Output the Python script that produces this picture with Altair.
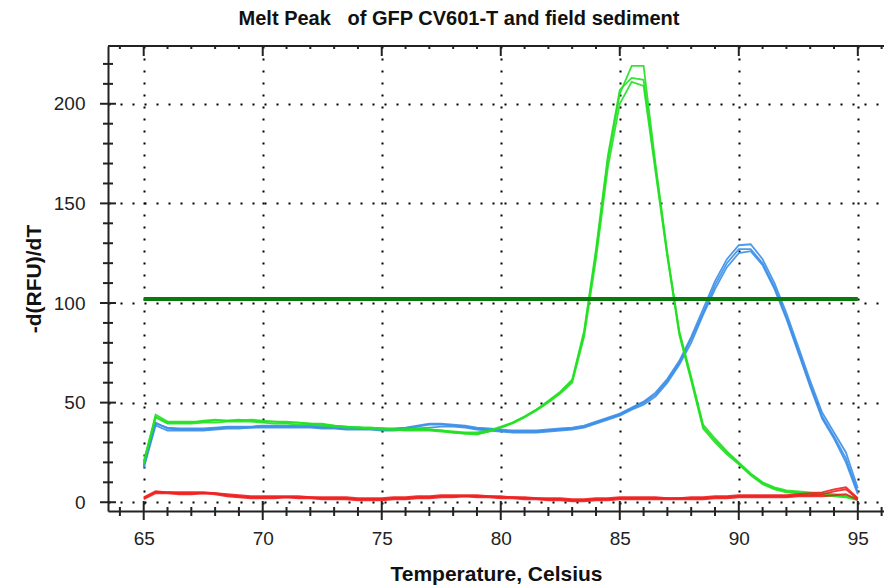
import altair as alt
import pandas as pd

# Temperature grid (Celsius), 0.5 degree steps
temps = [65.0, 65.5, 66.0, 66.5, 67.0, 67.5, 68.0, 68.5, 69.0, 69.5,
         70.0, 70.5, 71.0, 71.5, 72.0, 72.5, 73.0, 73.5, 74.0, 74.5,
         75.0, 75.5, 76.0, 76.5, 77.0, 77.5, 78.0, 78.5, 79.0, 79.5,
         80.0, 80.5, 81.0, 81.5, 82.0, 82.5, 83.0, 83.5, 84.0, 84.5,
         85.0, 85.5, 86.0, 86.5, 87.0, 87.5, 88.0, 88.5, 89.0, 89.5,
         90.0, 90.5, 91.0, 91.5, 92.0, 92.5, 93.0, 93.5, 94.0, 94.5,
         95.0]

green_a = [20, 44, 40.5, 40.5, 40.5, 40.5, 41, 41, 41.5, 41,
           40.5, 40.5, 40, 40, 39.5, 39, 38.5, 38, 37.5, 37,
           37, 36.5, 36.5, 36.5, 36.5, 36, 35.5, 35, 35, 36,
           38, 40, 43, 46.5, 50.5, 55, 61, 85, 125, 172,
           205, 219, 219, 170, 125, 85, 62, 38, 31, 25,
           19.5, 14, 9.5, 7, 5.5, 5, 4.5, 4, 3.5, 3,
           1.5]
green_b = [19, 42.5, 39.5, 39.5, 39.5, 40, 40, 40.5, 40.5, 40.5,
           40, 39.5, 39.5, 39, 39, 38.5, 38, 37.5, 37.5, 37,
           36.5, 36.5, 36, 36, 36, 35.5, 35, 34.5, 34.5, 35.5,
           37.5, 39.5, 42.5, 46, 50, 54.5, 60, 83, 122, 168,
           200, 211, 209, 166, 123, 84, 61, 37, 30, 24,
           19, 13.5, 9, 6.5, 5, 4.5, 4, 3.5, 3, 2.5,
           1]
green_c = [20.5, 43, 40, 40, 40, 41, 41.5, 41, 41, 41.5,
           41, 40.5, 40.5, 40, 39.5, 39.5, 38.5, 38, 37.5, 37.5,
           37, 36.5, 36.5, 37, 36.5, 36, 35, 34.5, 34, 35.5,
           37.5, 40, 43, 46.5, 51, 55.5, 61.5, 86, 127, 174,
           207, 213, 212, 168, 124, 86, 63, 39, 32, 25.5,
           20, 14.5, 10, 7.5, 6, 5.5, 5, 4.5, 4, 3.5,
           2]

blue_a = [18, 40, 37, 36.5, 36.5, 36.5, 37, 37.5, 37.5, 37.5,
          38, 38, 38, 38, 38, 37.5, 37.5, 37, 37, 37,
          36.5, 36.5, 37, 38, 39, 39, 38.5, 38, 37, 36.5,
          36, 35.5, 35.5, 35.5, 36, 36.5, 37, 38, 40, 42,
          44, 47, 50, 54, 61, 70, 82, 95, 109, 120,
          127, 127, 120, 108, 93, 76, 59, 43, 33, 22,
          5]
blue_b = [17, 38.5, 36, 36, 36, 36, 36.5, 37, 37, 37.5,
          37.5, 37.5, 37.5, 37.5, 37.5, 37, 37, 36.5, 36.5, 36.5,
          36, 36, 36.5, 37, 37.5, 38, 38, 37.5, 36.5, 36,
          35.5, 35, 35, 35, 35.5, 36, 36.5, 37.5, 39.5, 41.5,
          43.5, 46.5, 49, 53, 60, 69, 80, 94, 107, 118,
          125, 126, 119, 107, 92, 75, 58, 42, 32, 20,
          4]
blue_c = [18.5, 39.5, 37.5, 37, 37, 37, 37.5, 38, 38, 38,
          38.5, 38.5, 38.5, 38.5, 38.5, 38, 38, 37.5, 37.5, 37,
          37, 37, 37.5, 38.5, 39.5, 39.5, 39, 38.5, 37.5, 37,
          36.5, 36, 36, 36, 36.5, 37, 37.5, 38.5, 40.5, 42.5,
          44.5, 47.5, 50.5, 55, 62, 71, 83, 97, 111, 122,
          129, 129.5, 122, 110, 95, 78, 61, 45, 35, 25,
          7]

red_a = [2, 5, 5, 4.5, 4.5, 4.5, 4.5, 3.5, 3, 2.5,
         2.5, 2.5, 2.5, 2.5, 2.5, 2, 2, 2, 1.5, 1.5,
         1.5, 2, 2, 2.5, 2.5, 3, 3, 3, 3, 3,
         2.5, 2.5, 2, 2, 1.5, 1.5, 1, 1, 1.5, 1.5,
         2, 2, 2, 2, 2, 2, 2, 2, 2.5, 2.5,
         3, 3, 3, 3, 3, 3.5, 3.5, 4, 5.5, 6.5,
         1.5]
red_b = [1.5, 4.5, 4.5, 4, 4, 4.5, 4, 3, 2.5, 2,
         2, 2, 2.5, 2, 2, 1.5, 1.5, 1.5, 1, 1,
         1, 1.5, 1.5, 2, 2, 2.5, 2.5, 3, 2.5, 2.5,
         2, 2, 1.5, 1.5, 1, 1, 0.5, 0.5, 1, 1,
         1.5, 1.5, 1.5, 1.5, 1.5, 1.5, 1.5, 1.5, 2, 2,
         2.5, 2.5, 2.5, 2.5, 2.5, 3, 3, 3, 3.5, 4,
         1]
red_c = [2.5, 5.5, 5, 5, 5, 5, 4.5, 4, 3.5, 3,
         3, 3, 3, 3, 2.5, 2.5, 2.5, 2.5, 2, 2,
         2, 2.5, 2.5, 3, 3, 3.5, 3.5, 3.5, 3.5, 3,
         3, 2.5, 2.5, 2, 2, 2, 1.5, 1.5, 2, 2,
         2.5, 2.5, 2.5, 2.5, 2, 2, 2.5, 2.5, 3, 3,
         3.5, 3.5, 3.5, 3.5, 3.5, 4, 4.5, 5, 6.5, 7.5,
         2]

threshold = [102]
x_major = [65, 70, 75, 80, 85, 90, 95]
x_minor = [64, 66, 67, 68, 69, 71, 72, 73, 74, 76, 77, 78, 79, 81, 82, 83, 84,
           86, 87, 88, 89, 91, 92, 93, 94, 96]
y_major = [0, 50, 100, 150, 200]
y_minor = [10, 20, 30, 40, 60, 70, 80, 90, 110, 120, 130, 140, 160, 170, 180,
           190, 210, 220]

series = [
    ("blue", "b1", blue_a), ("blue", "b2", blue_b), ("blue", "b3", blue_c),
    ("green", "g1", green_a), ("green", "g2", green_b), ("green", "g3", green_c),
    ("red", "r1", red_a), ("red", "r2", red_b), ("red", "r3", red_c),
]
rows = []
for grp, rep, vals in series:
    for t, v in zip(temps, vals):
        rows.append({"T": t, "v": v, "grp": grp, "rep": rep})
curves = pd.DataFrame(rows)

W, H = 776, 465
FONT = "Liberation Sans"
XDOM = [63.5, 96.1]
YDOM = [-4.4, 229]

xs = alt.Scale(domain=XDOM, nice=False, zero=False)
ys = alt.Scale(domain=YDOM, nice=False, zero=False)

base_x = alt.X("T:Q", scale=xs,
               axis=alt.Axis(values=x_major, grid=True, gridDash=[2, 10],
                             gridColor="#000", gridWidth=2, gridOpacity=1,
                             ticks=False, domain=True, domainColor="#222",
                             domainWidth=2, labelFontSize=19, labelFont=FONT,
                             labelColor="#222", labelPadding=18,
                             title="Temperature, Celsius", titleFont=FONT,
                             titleFontSize=21, titleFontWeight="bold",
                             titleColor="#111", titlePadding=15))
base_y = alt.Y("v:Q", scale=ys,
               axis=alt.Axis(values=y_major, grid=True, gridDash=[2, 10],
                             gridColor="#000", gridWidth=2, gridOpacity=1,
                             ticks=False, domain=True, domainColor="#222",
                             domainWidth=2, labelFontSize=19, labelFont=FONT,
                             labelColor="#222", labelPadding=23,
                             title="-d(RFU)/dT", titleFont=FONT,
                             titleFontSize=21, titleFontWeight="bold",
                             titleColor="#111", titlePadding=9))

lines = alt.Chart(curves).mark_line(strokeWidth=1.8, opacity=0.9).encode(
    x=base_x,
    y=base_y,
    color=alt.Color("grp:N", legend=None,
                    scale=alt.Scale(domain=["blue", "green", "red"],
                                    range=["#3a8ee8", "#22e022", "#ee2020"])),
    detail="rep:N",
    order=alt.Order("T:Q"),
)

thr = alt.Chart(pd.DataFrame({"y": threshold, "x1": [65], "x2": [95]})).mark_rule(
    color="#0a7a0a", strokeWidth=4).encode(
    x=alt.X("x1:Q", scale=xs), x2="x2:Q", y=alt.Y("y:Q", scale=ys))

tick_col = "#222"
xmaj = pd.DataFrame({"t": x_major})
xmin = pd.DataFrame({"t": x_minor})
ymaj = pd.DataFrame({"t": y_major})
ymin = pd.DataFrame({"t": y_minor})

bot_major = alt.Chart(xmaj).mark_rule(color=tick_col, strokeWidth=2).encode(
    x=alt.X("t:Q", scale=xs), y=alt.value(H - 10), y2=alt.value(H + 9))
bot_minor = alt.Chart(xmin).mark_rule(color=tick_col, strokeWidth=2).encode(
    x=alt.X("t:Q", scale=xs), y=alt.value(H - 4), y2=alt.value(H + 5))
top_major = alt.Chart(xmaj).mark_rule(color=tick_col, strokeWidth=2).encode(
    x=alt.X("t:Q", scale=xs), y=alt.value(0), y2=alt.value(10))
top_minor = alt.Chart(xmin).mark_rule(color=tick_col, strokeWidth=2).encode(
    x=alt.X("t:Q", scale=xs), y=alt.value(0), y2=alt.value(3))
left_major = alt.Chart(ymaj).mark_rule(color=tick_col, strokeWidth=2).encode(
    y=alt.Y("t:Q", scale=ys), x=alt.value(-8), x2=alt.value(8))
left_minor = alt.Chart(ymin).mark_rule(color=tick_col, strokeWidth=2).encode(
    y=alt.Y("t:Q", scale=ys), x=alt.value(-5), x2=alt.value(5))
top_line = alt.Chart(xmaj).mark_rule(color=tick_col, strokeWidth=2).encode(
    x=alt.value(0), x2=alt.value(W), y=alt.value(0))

chart = alt.layer(
    lines, thr, bot_major, bot_minor, top_major, top_minor,
    left_major, left_minor, top_line
).properties(
    width=W, height=H,
    title=alt.TitleParams("Melt Peak\u00a0\u00a0 of GFP CV601-T and field sediment",
                          font=FONT, fontSize=20, fontWeight="bold",
                          color="#111", anchor="middle", dx=-37, offset=16),
    autosize=alt.AutoSizeParams(type="none"),
    padding={"left": 108, "top": 46, "right": 0, "bottom": 76},
).configure_view(stroke=None).configure(background="white")

chart.save("out.html", embed_options={"renderer": "svg", "actions": False})
